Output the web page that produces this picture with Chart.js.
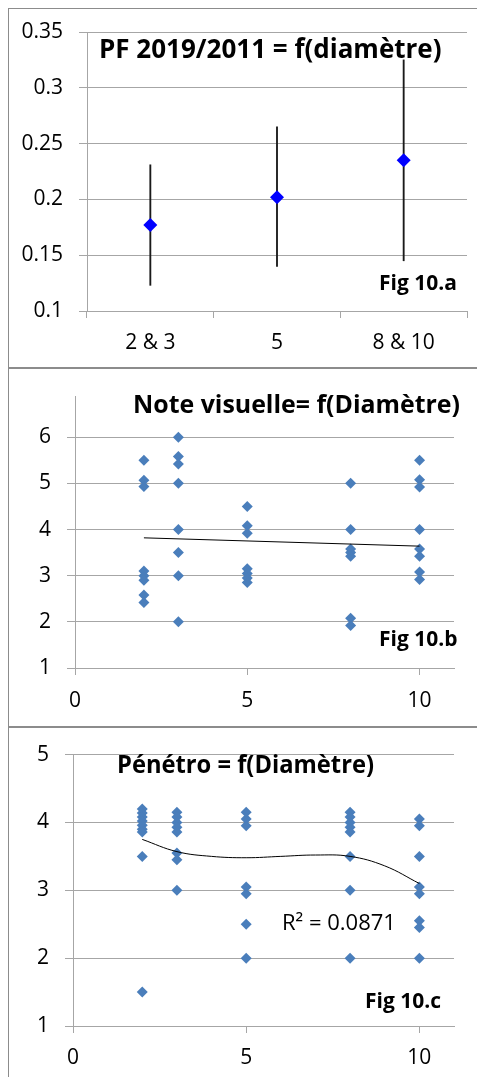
<!DOCTYPE html>
<html>
<head>
<meta charset="utf-8">
<script src="https://cdn.jsdelivr.net/npm/chart.js@4.4.1/dist/chart.umd.min.js"></script>
<style>
body { margin: 0; background: #fff; width: 477px; height: 1077px; overflow: hidden; position: relative; }
.frame { position: absolute; left: 8px; width: 480px; border: 1px solid #8c8c8c; }
canvas { position: absolute; left: 0; }
</style>
</head>
<body>
<div class="frame" style="top:8px;height:359px"></div>
<div class="frame" style="top:367px;height:359px"></div>
<div class="frame" style="top:726px;height:360px"></div>
<canvas id="c1" width="477" height="368" style="top:0"></canvas>
<canvas id="c2" width="477" height="358" style="top:368px"></canvas>
<canvas id="c3" width="477" height="351" style="top:726px"></canvas>
<script>
// Fig 10.a - PF 2019/2011 by diameter class (mean + min/max bars)
const pfClasses = ['2 & 3', '5', '8 & 10'];
const pfMean = [0.177, 0.202, 0.235];
const pfLow = [0.123, 0.14, 0.145];
const pfHigh = [0.231, 0.265, 0.325];
const pfTicks = [0.1, 0.15, 0.2, 0.25, 0.3, 0.35];

// Fig 10.b - visual note vs diameter
const diameters = [2, 3, 5, 8, 10];
const noteValues = [
    [5.5, 5.07, 4.93, 3.1, 3.0, 2.9, 2.58, 2.42],
    [6, 5.58, 5.42, 5, 4, 3.5, 3, 2],
    [4.5, 4.08, 3.92, 3.15, 3.05, 2.95, 2.85],
    [5, 4, 3.58, 3.5, 3.42, 2.08, 1.92],
    [5.5, 5.08, 4.92, 4, 3.58, 3.42, 3.08, 2.92]
];
const noteTrendX = [2, 10];
const noteTrendY = [3.82, 3.64];
const noteTicks = [1, 2, 3, 4, 5, 6];

// Fig 10.c - penetrometer vs diameter
const penValues = [
    [4.2, 4.14, 4.08, 4.02, 3.96, 3.9, 3.86, 3.5, 1.5],
    [4.15, 4.08, 4.0, 3.93, 3.86, 3.55, 3.45, 3.0],
    [4.15, 4.05, 3.95, 3.05, 2.95, 2.5, 2.0],
    [4.15, 4.08, 4.0, 3.93, 3.86, 3.5, 3.0, 2.0],
    [4.05, 3.95, 3.5, 3.05, 2.95, 2.55, 2.45, 2.0]
];
const penTrendX = [2, 3, 4, 5, 6, 7, 8, 9, 10];
const penTrendY = [3.75, 3.57, 3.5, 3.48, 3.5, 3.52, 3.5, 3.36, 3.1];
const penTicks = [1, 2, 3, 4, 5];
const diamTicks = [0, 5, 10];

const gridColor = '#a6a6a6';
const tickFont = { family: 'Open Sans', size: 21 };

// draws the free text boxes (titles, fig numbers, R²)
const notes = {
    id: 'notes',
    afterDraw(chart, args, opts) {
        const ctx = chart.ctx;
        ctx.save();
        ctx.fillStyle = '#000';
        ctx.textBaseline = 'alphabetic';
        for (const t of opts.items) {
            ctx.font = t.font;
            ctx.fillText(t.text, t.x, t.y, t.w);
        }
        ctx.restore();
    }
};

function points(values) {
    let out = [];
    values.forEach((col, i) => col.forEach(v => out.push({ x: diameters[i], y: v })));
    return out;
}

function scatterOpts(yMin, yMax, yTicks, padTop, xHeight, yWidth, xPad, items) {
    return {
        responsive: false,
        animation: false,
        events: [],
        layout: { padding: { top: padTop, right: 23, left: 0, bottom: 0 } },
        plugins: { legend: { display: false }, tooltip: { enabled: false }, notes: { items: items } },
        scales: {
            x: {
                type: 'linear', min: 0, max: 11,
                afterBuildTicks: s => { s.ticks = diamTicks.map(v => ({ value: v })); },
                grid: { drawOnChartArea: false, tickLength: 7, color: gridColor },
                border: { color: gridColor },
                ticks: { font: tickFont, color: '#000', padding: xPad, maxRotation: 0 },
                afterFit: s => { s.height = xHeight; }
            },
            y: {
                min: yMin, max: yMax,
                afterBuildTicks: s => { s.ticks = yTicks.map(v => ({ value: v })); },
                grid: { color: gridColor, tickLength: 8 },
                border: { color: gridColor },
                ticks: { font: tickFont, color: '#000', padding: 16 },
                afterFit: s => { s.width = yWidth; }
            }
        }
    };
}

new Chart(document.getElementById('c1'), {
    type: 'bar',
    data: {
        labels: pfClasses,
        datasets: [
            { type: 'line', data: pfMean, showLine: false, pointStyle: 'rectRot', pointRadius: 7,
              pointBackgroundColor: '#0000ff', pointBorderWidth: 0, order: 0 },
            { data: pfLow.map((v, i) => [v, pfHigh[i]]), backgroundColor: '#1a1a1a', barThickness: 1.2, order: 1 }
        ]
    },
    options: {
        responsive: false,
        animation: false,
        events: [],
        layout: { padding: { top: 32, right: 10, left: 0, bottom: 0 } },
        plugins: {
            legend: { display: false }, tooltip: { enabled: false },
            notes: { items: [
                { text: 'PF 2019/2011 = f(diamètre)', x: 99, y: 58, w: 345, font: 'bold 26px "Open Sans"' },
                { text: 'Fig 10.a', x: 379, y: 290, w: 79, font: 'bold 21px "Open Sans"' }
            ] }
        },
        scales: {
            x: {
                grid: { drawOnChartArea: false, tickLength: 7, color: gridColor, offset: true },
                border: { color: gridColor },
                ticks: { font: tickFont, color: '#000', padding: 12 },
                afterFit: s => { s.height = 57; }
            },
            y: {
                min: 0.1, max: 0.35,
                afterBuildTicks: s => { s.ticks = pfTicks.map(v => ({ value: v })); },
                grid: { color: gridColor, tickLength: 8 },
                border: { color: gridColor },
                ticks: { font: tickFont, color: '#000', padding: 16, callback: v => String(+v.toFixed(2)) },
                afterFit: s => { s.width = 87; }
            }
        }
    },
    plugins: [notes]
});

new Chart(document.getElementById('c2'), {
    type: 'scatter',
    data: {
        datasets: [
            { data: points(noteValues), pointStyle: 'rectRot', pointRadius: 5.5,
              pointBackgroundColor: '#4a7ebb', pointBorderWidth: 0, order: 1 },
            { type: 'line', data: noteTrendX.map((x, i) => ({ x: x, y: noteTrendY[i] })),
              borderColor: '#000', borderWidth: 1, pointRadius: 0, fill: false, order: 0 }
        ]
    },
    options: scatterOpts(1, 6.88, noteTicks, 24, 58, 75, 13, [
        { text: 'Note visuelle= f(Diamètre)', x: 133, y: 45, w: 327, font: 'bold 25px "Open Sans"' },
        { text: 'Fig 10.b', x: 379, y: 278, w: 80, font: 'bold 21px "Open Sans"' }
    ]),
    plugins: [notes]
});

new Chart(document.getElementById('c3'), {
    type: 'scatter',
    data: {
        datasets: [
            { data: points(penValues), pointStyle: 'rectRot', pointRadius: 5.5,
              pointBackgroundColor: '#4a7ebb', pointBorderWidth: 0, order: 1 },
            { type: 'line', data: penTrendX.map((x, i) => ({ x: x, y: penTrendY[i] })),
              borderColor: '#000', borderWidth: 1, pointRadius: 0, tension: 0.4, fill: false, order: 0 }
        ]
    },
    options: scatterOpts(1, 5, penTicks, 23, 51, 73, 12, [
        { text: 'Pénétro = f(Diamètre)', x: 117, y: 47, w: 257, font: 'bold 25px "Open Sans"' },
        { text: 'Fig 10.c', x: 365, y: 282, w: 77, font: 'bold 21px "Open Sans"' },
        { text: 'R² = 0.0871', x: 282, y: 204, w: 115, font: '22px "Open Sans"' }
    ]),
    plugins: [notes]
});
</script>
</body>
</html>
